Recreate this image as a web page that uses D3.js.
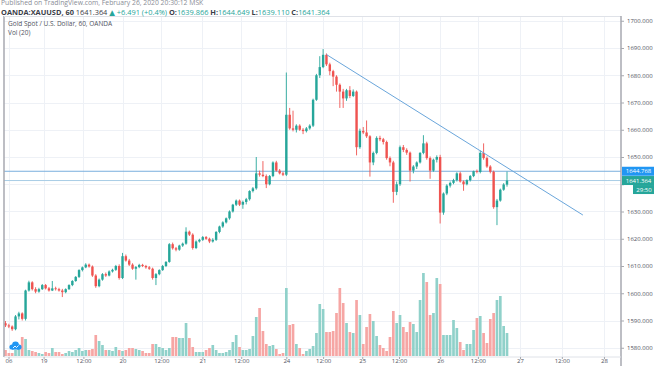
<!DOCTYPE html>
<html><head><meta charset="utf-8">
<script src="https://cdn.jsdelivr.net/npm/d3@7/dist/d3.min.js"></script>
<style>
body{margin:0;background:#fff;overflow:hidden;}
svg{display:block;}
text{font-family:"Open Sans","DejaVu Sans",sans-serif;}
</style>
</head><body>
<svg id="c" width="654" height="366"></svg>
<script>
// ---- data (hourly candles, OANDA:XAUUSD 60) ----
const opens = [1589.0,1588.2,1587.8,1586.8,1591.5,1592.6,1590.6,1601.0,1604.0,1601.5,
1600.6,1601.5,1603.0,1601.8,1601.0,1601.8,1601.5,1601.0,1600.4,1601.5,
1603.0,1604.5,1606.0,1608.5,1609.5,1610.5,1609.8,1606.5,1602.6,1605.0,
1607.0,1606.5,1608.0,1608.6,1610.0,1605.6,1613.6,1612.0,1610.5,1609.0,
1609.6,1610.4,1610.0,1609.5,1609.0,1605.6,1607.0,1608.5,1610.0,1611.5,
1618.0,1616.5,1616.0,1617.5,1618.2,1622.6,1621.5,1616.6,1619.0,1619.6,
1620.6,1620.0,1619.0,1619.6,1622.5,1624.5,1626.0,1627.5,1630.0,1632.5,
1634.0,1632.5,1633.5,1634.5,1637.5,1638.5,1644.0,1643.5,1643.0,1640.0,
1643.0,1648.0,1645.0,1644.0,1643.5,1665.5,1660.5,1660.0,1661.5,1660.0,
1659.5,1660.5,1661.5,1671.0,1680.0,1683.0,1687.5,1684.0,1681.5,1679.5,
1676.5,1674.0,1671.5,1674.5,1672.4,1674.0,1653.6,1659.6,1659.0,1657.6,
1648.0,1651.5,1657.0,1656.5,1655.5,1649.6,1648.0,1637.2,1640.0,1653.6,
1652.6,1651.6,1645.0,1646.5,1648.0,1651.5,1655.0,1649.6,1645.0,1649.0,
1650.0,1629.6,1636.6,1639.5,1640.5,1641.5,1644.0,1641.0,1640.0,1641.5,
1643.0,1644.8,1644.5,1651.5,1649.6,1646.5,1644.6,1631.6,1634.0,1638.0,
1639.866];
const highs = [1589.8,1588.8,1588.2,1592.0,1593.2,1593.0,1601.3,1604.6,1604.4,1602.2,
1602.0,1603.4,1603.4,1602.3,1604.5,1602.4,1602.0,1601.6,1601.8,1603.3,
1604.8,1606.3,1608.8,1609.8,1611.0,1610.9,1610.2,1607.0,1605.4,1607.4,
1607.6,1608.4,1609.0,1610.4,1610.6,1614.8,1614.2,1612.6,1611.0,1610.0,
1610.8,1610.8,1610.4,1610.0,1609.4,1607.4,1608.8,1610.4,1611.8,1618.4,
1618.6,1617.0,1617.8,1618.6,1624.2,1623.0,1622.0,1619.4,1620.0,1621.0,
1621.0,1620.4,1620.2,1622.8,1624.8,1626.4,1627.8,1630.4,1632.8,1634.4,
1634.4,1634.0,1635.0,1637.8,1639.0,1650.0,1645.0,1648.5,1643.6,1643.4,
1648.4,1648.6,1645.6,1644.6,1681.0,1668.0,1667.0,1662.0,1662.0,1660.6,
1661.0,1662.0,1671.4,1680.5,1687.0,1689.6,1688.0,1684.6,1682.0,1680.0,
1677.0,1675.0,1675.0,1676.0,1674.8,1674.4,1660.4,1661.0,1663.4,1658.0,
1652.0,1657.6,1657.8,1657.0,1656.0,1650.2,1648.6,1641.0,1654.2,1654.4,
1653.2,1652.0,1647.0,1648.4,1651.8,1658.0,1655.6,1650.2,1649.4,1650.6,
1650.8,1637.0,1640.0,1641.0,1642.0,1644.4,1644.6,1641.4,1641.8,1643.4,
1645.0,1645.4,1652.4,1655.0,1650.2,1647.0,1645.0,1634.6,1638.4,1640.4,
1644.649];
const lows = [1587.6,1587.2,1586.2,1586.4,1590.4,1590.0,1590.0,1600.6,1601.0,1600.0,
1600.2,1601.2,1601.4,1600.6,1600.8,1601.0,1600.6,1598.6,1600.0,1601.2,
1602.6,1604.2,1605.6,1608.0,1609.2,1609.4,1606.0,1602.0,1602.2,1604.6,
1606.0,1606.2,1607.6,1608.2,1605.0,1605.2,1611.6,1610.0,1608.6,1605.0,
1609.2,1609.6,1609.0,1608.6,1605.0,1603.0,1606.6,1608.2,1609.6,1611.2,
1616.0,1615.4,1615.6,1617.0,1617.8,1621.0,1616.0,1616.2,1618.6,1619.2,
1619.6,1618.4,1618.6,1619.2,1622.0,1624.0,1625.6,1627.0,1629.6,1632.0,
1632.0,1631.0,1632.6,1634.0,1637.0,1638.0,1642.8,1642.6,1638.6,1639.6,
1642.6,1644.6,1643.6,1643.0,1643.0,1660.0,1659.4,1659.0,1659.6,1658.4,
1659.0,1660.0,1661.0,1670.6,1679.0,1682.6,1683.4,1680.0,1676.0,1674.0,
1668.0,1668.0,1670.6,1671.6,1672.0,1650.6,1653.0,1658.4,1657.0,1642.8,
1647.0,1651.0,1655.8,1654.6,1649.0,1646.6,1633.2,1636.0,1639.4,1651.8,
1650.8,1641.0,1644.0,1645.6,1647.6,1651.0,1649.0,1642.0,1644.6,1648.0,
1625.6,1628.8,1636.0,1638.8,1640.0,1641.0,1640.6,1637.6,1639.6,1641.0,
1642.6,1644.0,1644.0,1649.0,1646.0,1644.0,1631.0,1625.0,1633.6,1637.6,
1639.110];
const closes = [1588.2,1587.8,1586.8,1591.5,1592.6,1590.6,1601.0,1604.0,1601.5,1600.6,
1601.5,1603.0,1601.8,1601.0,1601.8,1601.5,1601.0,1600.4,1601.5,1603.0,
1604.5,1606.0,1608.5,1609.5,1610.5,1609.8,1606.5,1602.6,1605.0,1607.0,
1606.5,1608.0,1608.6,1610.0,1605.6,1613.6,1612.0,1610.5,1609.0,1609.6,
1610.4,1610.0,1609.5,1609.0,1605.6,1607.0,1608.5,1610.0,1611.5,1618.0,
1616.5,1616.0,1617.5,1618.2,1622.6,1621.5,1616.6,1619.0,1619.6,1620.6,
1620.0,1619.0,1619.6,1622.5,1624.5,1626.0,1627.5,1630.0,1632.5,1634.0,
1632.5,1633.5,1634.5,1637.5,1638.5,1644.0,1643.5,1643.0,1640.0,1643.0,
1648.0,1645.0,1644.0,1643.5,1665.5,1660.5,1660.0,1661.5,1660.0,1659.5,
1660.5,1661.5,1671.0,1680.0,1683.0,1687.5,1684.0,1681.5,1679.5,1676.5,
1674.0,1671.5,1674.5,1672.4,1674.0,1653.6,1659.6,1659.0,1657.6,1648.0,
1651.5,1657.0,1656.5,1655.5,1649.6,1648.0,1637.2,1640.0,1653.6,1652.6,
1651.6,1645.0,1646.5,1648.0,1651.5,1655.0,1649.6,1645.0,1649.0,1650.0,
1629.6,1636.6,1639.5,1640.5,1641.5,1644.0,1641.0,1640.0,1641.5,1643.0,
1644.8,1644.5,1651.5,1649.6,1646.5,1644.6,1631.6,1634.0,1638.0,1639.9,
1641.364];
const volumes = [6,3,3,6,9,19,17,6,5,4,3,2,4,3,8,4,4,2,3,5,
4,6,8,5,6,6,7,21,15,11,6,6,5,9,6,5,6,8,8,7,
6,5,3,3,12,12,9,8,6,8,19,19,18,18,33,18,9,4,4,
4,6,8,11,6,3,3,4,6,14,21,9,6,6,7,20,39,48,25,12,10,11,7,2,3,
68,31,32,12,8,2,5,7,10,23,52,47,24,24,25,43,68,53,33,24,23,56,41,12,29,42,35,20,11,8,
5,19,45,33,41,29,24,34,32,24,56,83,74,41,43,78,72,21,21,21,36,28,14,6,12,12,26,38,40,23,
13,37,43,56,60,30,23];

const priceTicks = [1580,1590,1600,1610,1620,1630,1640,1650,1660,1670,1680,1690,1700];
const hiddenTick = 1640; // covered by the price labels in the reference
const timeTickLabels = ["06","19","12:00","20","12:00","21","12:00","24","12:00","25","12:00","26","12:00","27","12:00","28"];
const timeTickIndex = [0.9,11.4,23.3,35.0,46.6,58.9,70.5,84.0,95.0,106.7,117.7,130.0,141.3,153.9,166.4,179.0];
const trendIdx = [96, 172.7];
const trendPrice = [1687.6, 1628.7];
const levelLine = 1644.768;
const lastPrice = 1641.364;
const countdown = "29:50";

// ---- layout ----
const L = 4, R = 621, T = 16, B = 357;
const UP = "#26a69a", DN = "#ef5350";
const UPV = "#90d1ca", DNV = "#f6a6a4";

const svg = d3.select("#c");
const n = closes.length;
const x = d3.scaleLinear().domain([0, n - 1]).range([5.5, 507]);
const y = d3.scaleLinear().domain([1580, 1700]).range([347.75, 20.75]);
const yv = d3.scaleLinear().domain([0, 83]).range([356, 273]);
const pitch = x(1) - x(0);

svg.append("defs").append("clipPath").attr("id", "pc")
  .append("rect").attr("x", L).attr("y", T).attr("width", R - L).attr("height", B - T);

// grid
const grid = svg.append("g").attr("clip-path", "url(#pc)");
grid.selectAll("line.h").data(priceTicks).join("line")
  .attr("x1", L).attr("x2", R).attr("y1", d => Math.round(y(d)) + 0.5).attr("y2", d => Math.round(y(d)) + 0.5)
  .attr("stroke", "#eef1f6").attr("stroke-width", 1);
grid.selectAll("line.v").data(timeTickIndex).join("line")
  .attr("x1", d => Math.round(x(d)) + 0.5).attr("x2", d => Math.round(x(d)) + 0.5).attr("y1", T).attr("y2", B)
  .attr("stroke", "#eef1f6").attr("stroke-width", 1);

const plot = svg.append("g").attr("clip-path", "url(#pc)");
const idx = d3.range(n);
const up = i => closes[i] >= opens[i];

// volume
plot.append("g").selectAll("rect").data(idx).join("rect")
  .attr("x", i => x(i) - pitch * 0.4).attr("width", pitch * 0.8)
  .attr("y", i => yv(volumes[i])).attr("height", i => yv(0) - yv(volumes[i]))
  .attr("fill", i => up(i) ? UPV : DNV);

// level lines
plot.append("line").attr("x1", L).attr("x2", R)
  .attr("y1", y(levelLine)).attr("y2", y(levelLine))
  .attr("stroke", "#79aedd").attr("stroke-width", 1);
plot.append("line").attr("x1", L).attr("x2", R)
  .attr("y1", y(lastPrice)).attr("y2", y(lastPrice))
  .attr("stroke", "#a9cde6").attr("stroke-width", 1);

// candles
const cg = plot.append("g");
cg.selectAll("line").data(idx).join("line")
  .attr("x1", i => x(i)).attr("x2", i => x(i))
  .attr("y1", i => y(highs[i])).attr("y2", i => y(lows[i]))
  .attr("stroke", i => up(i) ? UP : DN).attr("stroke-width", 0.9);
cg.selectAll("rect").data(idx).join("rect")
  .attr("x", i => x(i) - pitch * 0.36).attr("width", pitch * 0.72)
  .attr("y", i => y(Math.max(opens[i], closes[i])))
  .attr("height", i => Math.max(0.8, Math.abs(y(opens[i]) - y(closes[i]))))
  .attr("fill", i => up(i) ? UP : DN);

// trend line
plot.append("line")
  .attr("x1", x(trendIdx[0])).attr("y1", y(trendPrice[0]))
  .attr("x2", x(trendIdx[1])).attr("y2", y(trendPrice[1]))
  .attr("stroke", "#6aa6db").attr("stroke-width", 1);

// borders
svg.append("line").attr("x1", L).attr("x2", L).attr("y1", T).attr("y2", B).attr("stroke", "#a7a9b0").attr("stroke-width", 1.5);
svg.append("line").attr("x1", L).attr("x2", R).attr("y1", T + 0.5).attr("y2", T + 0.5).attr("stroke", "#dfe2e8").attr("stroke-width", 1);

// right axis
const ya = svg.append("g").attr("transform", `translate(${R},0)`)
  .call(d3.axisRight(y).tickValues(priceTicks)
    .tickFormat(d => d === hiddenTick ? "" : d.toFixed(3)).tickSize(3).tickPadding(3));
ya.select(".domain").attr("stroke", "#a7a9b0").attr("stroke-width", 1.5).attr("d", `M0,${T}V366`);
ya.selectAll(".tick line").attr("stroke", "#a7a9b0");
ya.selectAll(".tick text").attr("fill", "#50535e").style("font-size", "6px");

// bottom axis
const xa = svg.append("g").attr("transform", `translate(0,${B})`)
  .call(d3.axisBottom(x).tickValues(timeTickIndex).tickFormat((d, i) => timeTickLabels[i]).tickSize(2).tickPadding(0));
xa.select(".domain").attr("stroke", "#dfe2e8").attr("d", `M${L},0H${R}`);
xa.selectAll(".tick line").attr("stroke", "#a7a9b0");
xa.selectAll(".tick text").attr("fill", "#50535e").style("font-size", "6px");

// price labels on axis
function priceBox(yc, txt, fill, x0, w) {
  svg.append("rect").attr("x", x0).attr("y", yc - 4.5).attr("width", w).attr("height", 9).attr("fill", fill);
  svg.append("text").attr("x", x0 + w / 2).attr("y", yc + 2).attr("text-anchor", "middle")
    .attr("fill", "#fff").style("font-size", "6px").text(txt);
}
priceBox(y(levelLine), levelLine.toFixed(3), "#2196f3", R + 1, 33);
priceBox(y(lastPrice), lastPrice.toFixed(3), "#26a69a", R + 1, 33);
priceBox(y(lastPrice) + 9, countdown, "#26a69a", R + 12, 22);

// header
svg.append("text").attr("x", 1).attr("y", 5).attr("fill", "#8a8d96").style("font-size", "6.8px")
  .text("Published on TradingView.com, February 26, 2020 20:30:12 MSK");
const h2 = svg.append("text").attr("x", 1).attr("y", 15).style("font-size", "7.4px");
const G = "#26a69a", K = "#3a3d47";
[["OANDA:XAUUSD, 60 ", K, 700], ["1641.364 ", K, 400], ["\u25B2 +6.491 (+0.4%) ", G, 400],
 ["O:", K, 700], ["1639.866 ", G, 400], ["H:", K, 700], ["1644.649 ", G, 400],
 ["L:", K, 700], ["1639.110 ", G, 400], ["C:", K, 700], ["1641.364", G, 400]]
 .forEach(([t, c, w]) => h2.append("tspan").attr("fill", c).attr("font-weight", w).text(t));

svg.append("text").attr("x", 8).attr("y", 26).attr("fill", "#50535e").style("font-size", "6.5px")
  .text("Gold Spot / U.S. Dollar, 60, OANDA");
svg.append("text").attr("x", 8).attr("y", 35).attr("fill", "#50535e").style("font-size", "6.5px")
  .text("Vol (20)");

// TradingView cloud logo
const logo = svg.append("g").attr("transform", "translate(15,346)").attr("fill", "#2196f3");
logo.append("circle").attr("cx", -3).attr("cy", 1).attr("r", 2.6);
logo.append("circle").attr("cx", 0.5).attr("cy", -1).attr("r", 3.4);
logo.append("circle").attr("cx", 4).attr("cy", 1).attr("r", 2.6);
logo.append("rect").attr("x", -3).attr("y", 0.5).attr("width", 7).attr("height", 3.1);
logo.append("path").attr("d", "M-2,2 L0,0 L1.5,1.5 L3.5,-0.5").attr("stroke", "#fff").attr("stroke-width", 0.9).attr("fill", "none");
</script>
</body></html>
